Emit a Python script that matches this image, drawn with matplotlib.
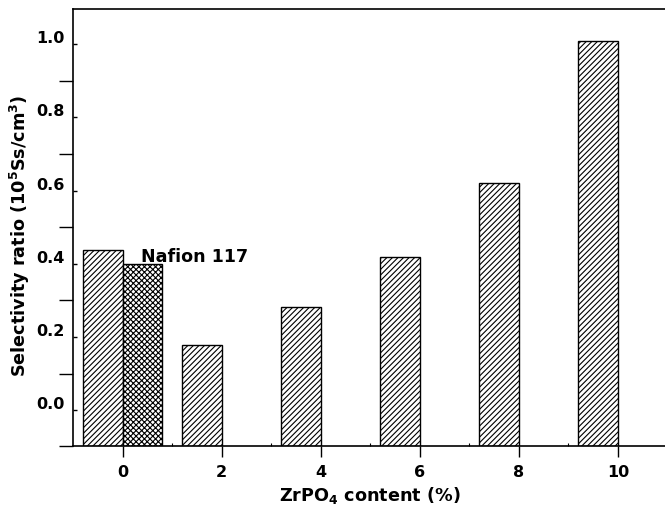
import numpy as np
import matplotlib
matplotlib.use('Agg')
import matplotlib.pyplot as plt
from matplotlib.transforms import ScaledTranslation

## data
content = [0, 2, 4, 6, 8, 10]
ratio = [0.416, 0.157, 0.260, 0.397, 0.598, 0.987]
nafion_x = [0]
nafion_ratio = [0.377]
ytick_vals = [0.0, 0.2, 0.4, 0.6, 0.8, 1.0]
ytick_labels = ['0.0', '0.2', '0.4', '0.6', '0.8', '1.0']
xtick_labels = ['0', '2', '4', '6', '8', '10']

plt.rcParams['font.family'] = 'DejaVu Sans'
plt.rcParams['font.weight'] = 'bold'
plt.rcParams['mathtext.default'] = 'bf'
plt.rcParams['hatch.linewidth'] = 0.8

fig = plt.figure(figsize=(6.65, 5.06), dpi=100)
ax = fig.add_axes([73/665, 1-447/506, 594.5/665, 437/506])

ybase = -0.12
ax.bar(content, np.array(ratio) - ybase, bottom=ybase, width=-0.8, align='edge',
       facecolor='white', edgecolor='black', hatch='//////', linewidth=1.0)
ax.bar(nafion_x, np.array(nafion_ratio) - ybase, bottom=ybase, width=0.8, align='edge',
       facecolor='white', edgecolor='black', hatch='xxxxxx', linewidth=1.0)
ax.text(0.38, 0.399, 'Nafion 117', fontsize=12.6, fontweight='bold', ha='left', va='center')

ax.set_xlim(-1.0, 11.0)
ax.set_ylim(ybase, 1.074)

# x ticks
ax.set_xticks(content)
ax.set_xticklabels(xtick_labels, fontsize=11.5)
ax.set_xticks(np.arange(1, 11, 2), minor=True)
ax.tick_params(axis='x', which='major', direction='out', length=8, width=1.0, pad=5)
ax.tick_params(axis='x', which='minor', direction='in', length=2, width=0.8)

# y ticks: labels sit a little above the inward ticks in the original
off = 0.022
ax.set_yticks(np.array(ytick_vals) - off)
ax.set_yticklabels(ytick_labels, fontsize=11.5)
ax.set_yticks(np.concatenate([[ybase], np.array(ytick_vals[:-1]) + 0.1 - off]), minor=True)
ax.tick_params(axis='y', which='major', direction='in', length=3, width=1.0, pad=5.8)
ax.tick_params(axis='y', which='minor', direction='out', length=10, width=1.0)
for lab in ax.get_yticklabels():
    lab.set_transform(lab.get_transform() + ScaledTranslation(0, 0.08, fig.dpi_scale_trans))

for s in ax.spines.values():
    s.set_linewidth(1.2)

ax.set_ylabel(r'Selectivity ratio (10$^{5}$Ss/cm$^{3}$)', fontsize=12.7, fontweight='bold')
ax.yaxis.set_label_coords(-0.069, 0.483)
ax.set_xlabel(r'ZrPO$_{4}$ content (%)', fontsize=12.7, fontweight='bold', va='top')
ax.xaxis.set_label_coords(0.5, -0.088)

fig.savefig('out.png', dpi=100, facecolor='white')
